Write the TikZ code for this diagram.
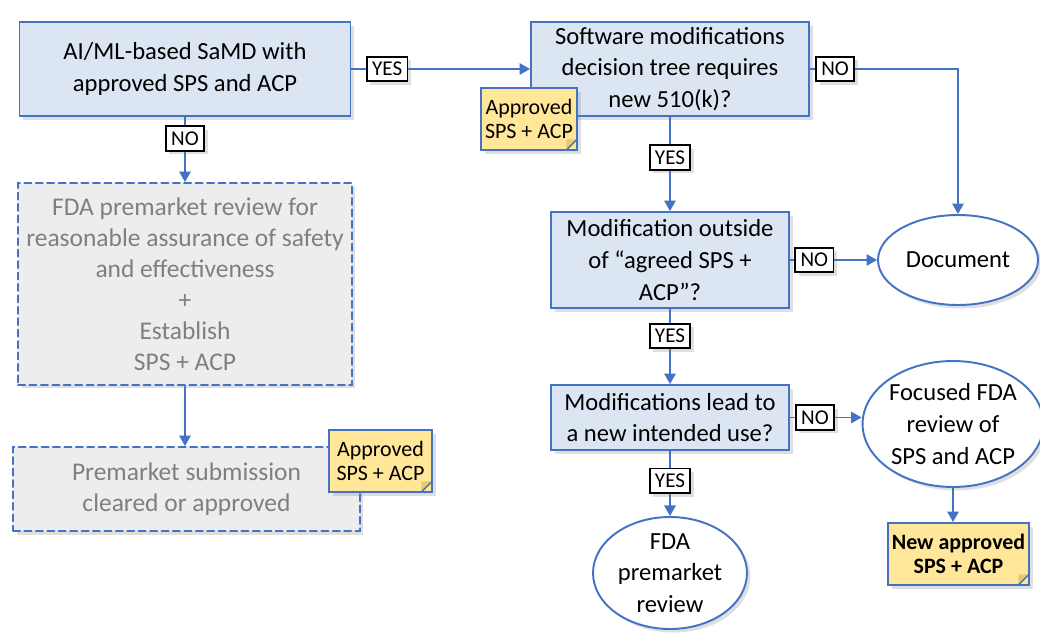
\documentclass[tikz,border=0pt]{standalone}
\usepackage{fontspec}
\setmainfont{Carlito}
\usetikzlibrary{arrows.meta}
\usetikzlibrary{shapes.geometric}
\usetikzlibrary{shadows}

\definecolor{lineblue}{HTML}{4472C4}
\definecolor{boxblue}{HTML}{DCE6F2}
\definecolor{boxgray}{HTML}{EDEDED}
\definecolor{txtgray}{HTML}{7F7F7F}
\definecolor{noteyellow}{HTML}{FFE699}
\definecolor{notefold}{HTML}{E8C96A}

\begin{document}
\begin{tikzpicture}[x=0.02cm, y=-0.02cm, line cap=round,
    boxshadow/.style={drop shadow={opacity=0.25, shadow xshift=2pt, shadow yshift=-2pt}},
    decision/.style={draw=lineblue, fill=boxblue, line width=1.1pt, align=center,
        inner sep=2pt, font=\fontsize{14}{18}\selectfont, boxshadow},
    pending/.style={draw=lineblue, fill=boxgray, text=txtgray, line width=1.1pt,
        dash pattern=on 4pt off 2.5pt, align=center, inner sep=2pt,
        font=\fontsize{14.5}{17.6}\selectfont, boxshadow},
    outcome/.style={ellipse, draw=lineblue, fill=white, line width=1.1pt, align=center,
        inner sep=0pt, font=\fontsize{14}{18}\selectfont, boxshadow},
    sticky/.style={draw=lineblue, fill=noteyellow, line width=1.1pt, align=center,
        inner sep=1pt, minimum height=1.24cm, font=\fontsize{12.5}{14}\selectfont, boxshadow,
        path picture={
            \fill[notefold] ([xshift=-6pt]path picture bounding box.south east)
                -- ([yshift=6pt]path picture bounding box.south east)
                -- ([xshift=-6pt, yshift=6pt]path picture bounding box.south east) -- cycle;
            \draw[lineblue, line width=0.8pt] ([xshift=-6pt]path picture bounding box.south east)
                -- ([yshift=6pt]path picture bounding box.south east);}},
    lbl/.style={draw=black, fill=white, line width=1pt, inner xsep=3pt, inner ysep=2pt,
        minimum height=14pt, font=\fontsize{12}{13}\selectfont, boxshadow},
    flow/.style={draw=lineblue, line width=1.1pt, -{Triangle[length=6pt, width=6.5pt]}},
    ]
    \useasboundingbox (0, 0) rectangle (1040, 635);

    \coordinate (cA) at (185, 69);
    \coordinate (cB) at (670, 69);
    \coordinate (cC) at (670, 260);
    \coordinate (cD) at (670, 417.5);
    \coordinate (cE) at (185, 284);
    \coordinate (cF) at (186.5, 489);

    \node[decision, minimum width=6.62cm, minimum height=1.88cm] (A) at (cA)
        {AI/ML-based SaMD with\\approved SPS and ACP};
    \node[decision, minimum width=5.56cm, minimum height=1.88cm] (B) at (cB)
        {Software modifications\\decision tree requires\\new 510(k)?};
    \node[decision, minimum width=4.76cm, minimum height=1.92cm] (C) at (cC)
        {Modification outside\\of “agreed SPS +\\ACP”?};
    \node[decision, minimum width=4.76cm, minimum height=1.30cm] (D) at (cD)
        {Modifications lead to\\a new intended use?};
    \node[pending, minimum width=6.68cm, minimum height=4.04cm] (E) at (cE)
        {FDA premarket review for\\reasonable assurance of safety\\and effectiveness\\+\\Establish\\SPS + ACP};
    \node[pending, minimum width=6.94cm, minimum height=1.68cm] (F) at (cF)
        {Premarket submission\\cleared or approved};

    \node[outcome, minimum width=3.2cm, minimum height=1.8cm] (Doc) at (958, 260) {Document};
    \node[outcome, minimum width=3.52cm, minimum height=2.52cm] (Foc) at (953, 424)
        {Focused FDA\\review of\\SPS and ACP};
    \node[outcome, minimum width=3.08cm, minimum height=2.12cm] (Rev) at (670, 573)
        {FDA\\premarket\\review};

    \node[sticky, minimum width=1.92cm] (N1) at (529, 119) {Approved\\SPS + ACP};
    \node[sticky, minimum width=2.06cm] (N2) at (380.5, 461) {Approved\\SPS + ACP};
    \node[sticky, minimum width=2.82cm, font=\fontsize{12.5}{14}\selectfont\bfseries] (N3) at (958.5, 554)
        {New approved\\SPS + ACP};

    \draw[flow] (A.east) -- node[lbl, pos=0.2] {YES} (B.west);
    \draw[flow] (A.south) -- node[lbl, pos=0.33] {NO} (E.north);
    \draw[flow] (E.south) -- (E.south |- F.north);
    \draw[flow] (B.east) -- node[lbl, pos=0.17] {NO} (B.east -| Doc.north) -- (Doc.north);
    \draw[flow] (B.south) -- node[lbl, pos=0.43] {YES} (C.north);
    \draw[flow] (C.east) -- node[lbl, pos=0.28] {NO} (C.east -| Doc.west);
    \draw[flow] (C.south) -- node[lbl, pos=0.36] {YES} (D.north);
    \draw[flow] (D.east) -- node[lbl, pos=0.35] {NO} (D.east -| Foc.west);
    \draw[flow] (D.south) -- node[lbl, pos=0.46] {YES} (Rev.north);
    \draw[flow] (Foc.south) -- (Foc.south |- N3.north);
\end{tikzpicture}
\end{document}
